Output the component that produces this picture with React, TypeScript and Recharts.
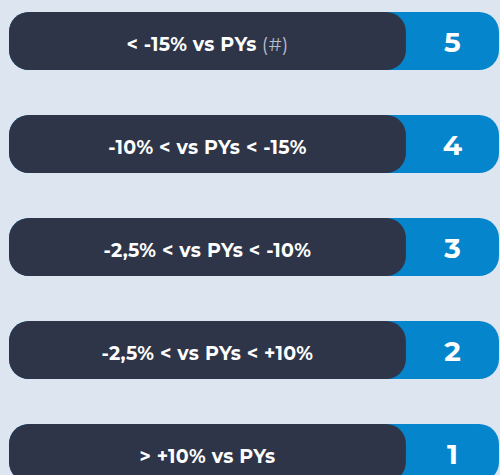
import React from "react";
import { BarChart, Bar, XAxis, YAxis, LabelList } from "recharts";

const categories = ["< -15% vs PYs", "-10% < vs PYs < -15%", "-2,5% < vs PYs < -10%", "-2,5% < vs PYs < +10%", "> +10% vs PYs"];
const suffixes = [" (#)", "", "", "", ""];
const scores = [5, 4, 3, 2, 1];
const labelPart = [81, 81, 81, 81, 81];
const totalPart = [100, 100, 100, 100, 100];

const data = categories.map((c, i) => ({
  name: c,
  suffix: suffixes[i],
  score: scores[i],
  label: labelPart[i],
  total: totalPart[i],
}));

const FONT = "Montserrat, 'Open Sans', 'Noto Sans', sans-serif";

const NameLabel = (props: any) => {
  const { x, y, width, height, index } = props;
  const d = data[index];
  return (
    <text
      x={x + width / 2}
      y={y + height / 2 + 3}
      textAnchor="middle"
      dominantBaseline="central"
      fill="#ffffff"
      fontFamily={FONT}
      fontWeight={700}
      fontSize={19}
      letterSpacing={0.3}
    >
      {d.name}
      {d.suffix ? (
        <tspan fill="#b9bec8" fontWeight={400}>
          {d.suffix}
        </tspan>
      ) : null}
    </text>
  );
};

const ScoreLabel = (props: any) => {
  const { x, y, width, height, index } = props;
  const d = data[index];
  const darkW = (width * d.label) / d.total;
  const cx = x + (darkW + width) / 2;
  return (
    <text
      x={cx}
      y={y + height / 2 + 1}
      textAnchor="middle"
      dominantBaseline="central"
      fill="#ffffff"
      fontFamily={FONT}
      fontWeight={700}
      fontSize={28}
    >
      {d.score}
    </text>
  );
};

export default function App() {
  return (
    <div
      style={{
        position: "absolute",
        left: 0,
        top: 0,
        width: 500,
        height: 475,
        overflow: "hidden",
        background: "#dce5f0",
      }}
    >
      <div style={{ position: "absolute", left: 0, top: -11 }}>
        <BarChart
          width={500}
          height={515}
          data={data}
          layout="vertical"
          margin={{ top: 0, right: 1, bottom: 0, left: 9 }}
          barGap={-58}
          barCategoryGap={0}
        >
          <XAxis type="number" domain={[0, 100]} hide />
          <YAxis type="category" dataKey="name" hide />
          <Bar dataKey="total" fill="#0585cb" barSize={58} radius={20} isAnimationActive={false}>
            <LabelList dataKey="score" content={ScoreLabel} />
          </Bar>
          <Bar dataKey="label" fill="#2e3548" barSize={58} radius={20} isAnimationActive={false}>
            <LabelList dataKey="name" content={NameLabel} />
          </Bar>
        </BarChart>
      </div>
    </div>
  );
}
